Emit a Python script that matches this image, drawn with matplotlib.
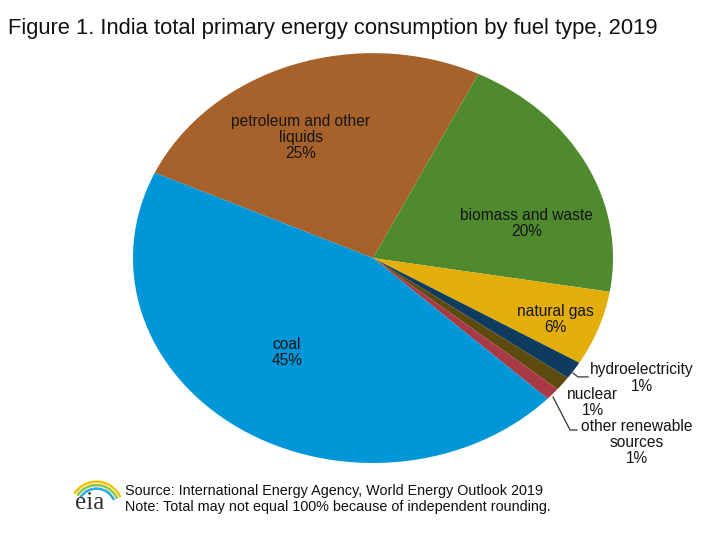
import matplotlib
matplotlib.use("Agg")
import matplotlib.pyplot as plt
from matplotlib.patches import Arc

plt.rcParams['font.family'] = ['Liberation Sans', 'DejaVu Sans']

# data (share of total)
fuels = ['petroleum and other\nliquids', 'biomass and waste', 'natural gas',
         'hydroelectricity', 'nuclear', 'other renewable\nsources', 'coal']
shares = [25.4, 20.4, 5.9, 1.4, 1.1, 1.0, 44.8]
shown_pct = [25, 20, 6, 1, 1, 1, 45]
colors = ['#A6622A', '#4F8A2F', '#E3AD0A', '#0F3B5F', '#5C4A0E', '#A83A45', '#0096D7']

# label centres in pie units (x, y)
label_pos = [(-0.30, 0.59), (0.64, 0.17), (0.76, -0.30), (1.12, -0.585),
             (0.915, -0.705), (1.10, -0.90), (-0.36, -0.46)]

fig = plt.figure(figsize=(7.2, 5.4), dpi=100)
ax = fig.add_axes([0.1847, 0.1426, 0.6667, 0.759])

ax.pie(shares, colors=colors, startangle=155.4, counterclock=False,
       radius=1, wedgeprops=dict(linewidth=0))
ax.set_aspect('auto')
ax.set_xlim(-1, 1)
ax.set_ylim(-1, 1)

# one text per line, so the stacked labels keep tight boxes
line_step = 11.6  # points
for name, pct, (lx, ly) in zip(fuels, shown_pct, label_pos):
    lines = name.split('\n') + [str(pct) + '%']
    n = len(lines)
    for i, line in enumerate(lines):
        ax.annotate(line, (lx, ly), xytext=(0, ((n - 1) / 2 - i) * line_step),
                    textcoords='offset points', ha='center', va='center',
                    fontsize=11.2, color='#151515', annotation_clip=False)

# leader lines for the small slices
ax.plot([0.833, 0.854, 0.896], [-0.561, -0.580, -0.580], color='#333333', lw=0.9, clip_on=False)
ax.plot([0.750, 0.821, 0.850], [-0.678, -0.839, -0.839], color='#333333', lw=0.9, clip_on=False)

fig.text(0.011, 0.947, 'Figure 1. India total primary energy consumption by fuel type, 2019',
         fontsize=15.8, color='#111111', va='center', ha='left')

# footer
fig.text(0.174, 0.090, 'Source: International Energy Agency, World Energy Outlook 2019',
         fontsize=10.4, color='#111111', va='center')
fig.text(0.174, 0.062, 'Note: Total may not equal 100% because of independent rounding.',
         fontsize=10.4, color='#111111', va='center')

# eia logo
fig.text(0.124, 0.068, 'eia', fontsize=18, family='Liberation Serif', color='#333333',
         ha='center', va='center')
for c, r in zip(['#F2C200', '#8CC63F', '#27A9E1'], [0.030, 0.026, 0.022]):
    arc = Arc((0.134, 0.060), r * 2 * 0.75 * 1.6, r * 2 * 1.6, theta1=30, theta2=140,
              transform=fig.transFigure, color=c, lw=1.8)
    fig.add_artist(arc)

fig.savefig('out.png', dpi=100)
